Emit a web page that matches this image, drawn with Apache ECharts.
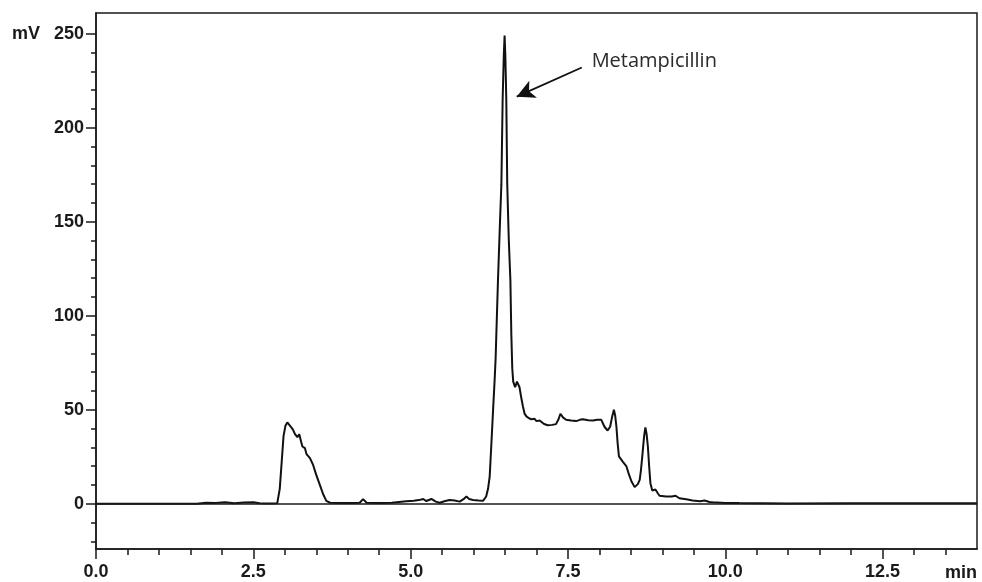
<!DOCTYPE html>
<html>
<head>
<meta charset="utf-8">
<script src="https://cdn.jsdelivr.net/npm/echarts@6/dist/echarts.min.js"></script>
<style>
html,body{margin:0;padding:0;background:#fff;}
#chart{width:982px;height:582px;}
</style>
</head>
<body>
<div id="chart"></div>
<script>
// Time (min) and signal (mV)
const times = [0, 1.0, 1.6, 1.75, 1.9, 2.05, 2.2, 2.35, 2.5, 2.6, 2.75, 2.88, 2.92, 2.95, 2.98, 3.01, 3.04, 3.07, 3.10, 3.13, 3.16, 3.20, 3.23, 3.26, 3.28, 3.32, 3.345, 3.37, 3.40, 3.45, 3.50, 3.557, 3.61, 3.66, 3.72, 3.9, 4.1, 4.19, 4.245, 4.30, 4.5, 4.7, 4.93, 5.05, 5.13, 5.20, 5.25, 5.33, 5.40, 5.46, 5.55, 5.62, 5.70, 5.78, 5.84, 5.886, 5.93, 5.99, 6.08, 6.15, 6.20, 6.23, 6.256, 6.28, 6.31, 6.335, 6.35, 6.388, 6.42, 6.442, 6.462, 6.48, 6.493, 6.505, 6.52, 6.535, 6.56, 6.585, 6.60, 6.615, 6.63, 6.66, 6.69, 6.706, 6.73, 6.76, 6.785, 6.81, 6.84, 6.88, 6.92, 6.97, 7.00, 7.02, 7.05, 7.08, 7.12, 7.18, 7.25, 7.31, 7.35, 7.38, 7.42, 7.47, 7.55, 7.63, 7.70, 7.74, 7.82, 7.90, 7.96, 8.03, 8.08, 8.13, 8.17, 8.20, 8.23, 8.25, 8.27, 8.29, 8.31, 8.37, 8.43, 8.47, 8.51, 8.56, 8.61, 8.64, 8.66, 8.68, 8.71, 8.73, 8.75, 8.77, 8.79, 8.81, 8.84, 8.89, 8.93, 8.955, 9.06, 9.15, 9.21, 9.27, 9.38, 9.48, 9.6, 9.67, 9.75, 9.80, 10.0, 10.22, 10.6, 11.0, 12.0, 13.0, 14.0];
const signal = [0, 0, 0.1, 0.6, 0.5, 0.8, 0.3, 0.7, 0.9, 0.3, 0.2, 0.3, 8, 22, 36, 41.5, 43.3, 42.5, 40.8, 39.5, 37.2, 35.5, 37, 33, 30.5, 29.6, 26.5, 25.5, 24.3, 20.7, 15.4, 10.1, 5.1, 1.6, 0.6, 0.4, 0.5, 0.6, 2.5, 0.6, 0.4, 0.6, 1.4, 1.6, 2, 2.6, 1.5, 2.6, 1.2, 0.6, 1.5, 2.1, 1.8, 1.2, 2.5, 3.9, 2.6, 2.1, 1.8, 1.6, 3.9, 8, 14.5, 30, 50, 66, 77, 119, 150, 170, 215, 238, 249, 238, 215, 170, 140, 119, 90, 72, 65, 62, 65, 66, 62, 56, 51.8, 48, 46.5, 45.5, 45, 45.2, 44, 43.3, 44.3, 44, 42.5, 41.8, 42, 42.4, 45, 47.9, 46, 44.7, 44.3, 44, 44.8, 45, 44.5, 44.3, 44.7, 44.7, 41, 39, 41, 46, 50, 47, 41, 32, 25.2, 22.5, 19.9, 15.5, 11.9, 8.9, 10.5, 12.8, 18, 25, 36, 40.6, 37, 30.5, 20, 11, 7.1, 7.6, 5.5, 4.3, 3.9, 3.9, 4.3, 3, 2.4, 1.8, 1.4, 1.8, 1.0, 0.8, 0.5, 0.4, 0.3, 0.2, 0.3, 0.3, 0.3];

const xMajorTicks = [0, 2.5, 5, 7.5, 10, 12.5];
const xMinorTicks = [0.5, 1, 1.5, 2, 3, 3.5, 4, 4.5, 5.5, 6, 6.5, 7, 8, 8.5, 9, 9.5, 10.5, 11, 11.5, 12, 13, 13.5];
const yMajorTicks = [0, 50, 100, 150, 200, 250];
const yMinorTicks = [-20, -10, 10, 20, 30, 40, 60, 70, 80, 90, 110, 120, 130, 140, 160, 170, 180, 190, 210, 220, 230, 240];

const peakName = 'Metampicillin';
const arrowStart = [7.72, 232];
const arrowEnd = [6.685, 216.5];
const labelAt = [7.876, 235.5];

const lineData = times.map((t, i) => [t, signal[i]]);

const axisFont = {fontFamily: 'Liberation Sans, Arial, sans-serif', fontSize: 18, fontWeight: 'bold', color: '#1a1a1a'};

const chart = echarts.init(document.getElementById('chart'), null, {renderer: 'canvas'});
chart.setOption({
  animation: false,
  backgroundColor: '#fff',
  grid: {left: 96, right: 5, top: 13, bottom: 33, show: true, borderColor: '#1a1a1a', borderWidth: 1.5, backgroundColor: 'transparent'},
  xAxis: [{
    type: 'value', min: 0, max: 14, position: 'bottom',
    axisLine: {show: true, onZero: false, lineStyle: {color: '#1a1a1a', width: 1.5}},
    axisTick: {show: true, length: 10, customValues: xMajorTicks, lineStyle: {color: '#1a1a1a', width: 1.5}},
    axisLabel: Object.assign({customValues: xMajorTicks, margin: 14, formatter: v => v.toFixed(1)}, axisFont),
    splitLine: {show: false}
  }, {
    type: 'value', min: 0, max: 14, position: 'bottom',
    axisLine: {show: false, onZero: false},
    axisTick: {show: true, length: 6, customValues: xMinorTicks, lineStyle: {color: '#1a1a1a', width: 1.5}},
    axisLabel: {show: false},
    splitLine: {show: false}
  }],
  yAxis: [{
    type: 'value', min: -24, max: 261, position: 'left',
    axisLine: {show: true, onZero: false, lineStyle: {color: '#1a1a1a', width: 1.5}},
    axisTick: {show: true, length: 10, customValues: yMajorTicks, lineStyle: {color: '#1a1a1a', width: 1.5}},
    axisLabel: Object.assign({customValues: yMajorTicks, margin: 12}, axisFont),
    splitLine: {show: false}
  }, {
    type: 'value', min: -24, max: 261, position: 'left',
    axisLine: {show: false, onZero: false},
    axisTick: {show: true, length: 5, customValues: yMinorTicks, lineStyle: {color: '#1a1a1a', width: 1.5}},
    axisLabel: {show: false},
    splitLine: {show: false}
  }],
  graphic: [
    {type: 'text', left: 12, top: 25, style: {text: 'mV', font: 'bold 18px "Liberation Sans", Arial, sans-serif', fill: '#1a1a1a'}},
    {type: 'text', right: 5, top: 564, style: {text: 'min', font: 'bold 18px "Liberation Sans", Arial, sans-serif', fill: '#1a1a1a'}}
  ],
  series: [{
    type: 'line',
    xAxisIndex: 0, yAxisIndex: 0,
    data: lineData,
    showSymbol: false,
    smooth: false,
    lineStyle: {color: '#111', width: 2},
    z: 3,
    markLine: {
      silent: true,
      animation: false,
      symbol: ['none', 'none'],
      label: {show: false},
      data: [
        [{coord: [0, 0], symbol: 'none', lineStyle: {color: '#1a1a1a', width: 1.5, type: 'solid'}}, {coord: [14, 0], symbol: 'none'}],
        [{coord: arrowStart, symbol: 'none', lineStyle: {color: '#111', width: 1.8, type: 'solid'}}, {coord: arrowEnd, symbol: 'arrow', symbolSize: [14, 18]}]
      ]
    },
    markPoint: {
      silent: true,
      animation: false,
      symbol: 'circle',
      symbolSize: 0,
      data: [{coord: labelAt, value: peakName}],
      label: {show: true, position: 'right', distance: 0, formatter: peakName, fontFamily: '"Open Sans", "Noto Sans", sans-serif', fontSize: 20, color: '#2a2a2a'}
    }
  }]
});
</script>
</body>
</html>
